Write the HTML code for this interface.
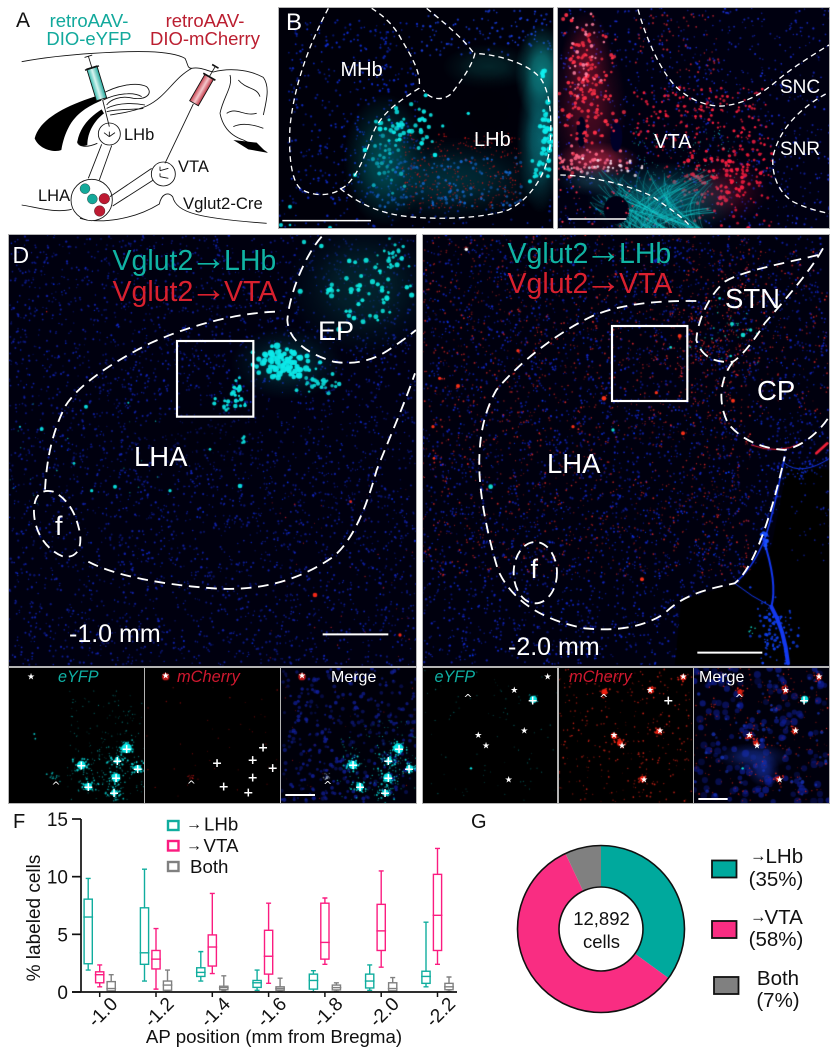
<!DOCTYPE html>
<html lang="en">
<head>
<meta charset="utf-8">
<title>Vglut2 projection labeling figure</title>
<style>
html,body{margin:0;padding:0;background:#fff;}
#figure{position:relative;width:838px;height:1050px;overflow:hidden;background:#fff;font-family:"Liberation Sans",sans-serif;}
canvas{position:absolute;display:block;filter:blur(.35px);box-shadow:0 0 0 1px #b4b4b4;}
#overlay{position:absolute;left:0;top:0;}
#overlay text{font-family:"Liberation Sans",sans-serif;}
.lab{fill:#fff;}
.dash{fill:none;stroke:#fff;stroke-linecap:butt;}
.mk{fill:#fff;text-anchor:middle;dominant-baseline:central;font-family:"DejaVu Sans",sans-serif !important;}
.st{font-size:27px;}
.pl{font-size:38px;font-weight:bold;}
.cr{font-size:32px;}
.br{fill:none;stroke:#111;stroke-width:2.6;}
</style>
</head>
<body>
<div id="figure">
<canvas id="pB1" width="274" height="220" style="left:279px;top:8px"></canvas>
<canvas id="pB2" width="271" height="220" style="left:558px;top:8px"></canvas>
<canvas id="pD1" width="407" height="431" style="left:9px;top:235px"></canvas>
<canvas id="pD2" width="406" height="431" style="left:423px;top:235px"></canvas>
<canvas id="i1" width="135" height="135" style="left:9px;top:668px"></canvas>
<canvas id="i2" width="135" height="135" style="left:145px;top:668px"></canvas>
<canvas id="i3" width="135" height="135" style="left:281px;top:668px"></canvas>
<canvas id="i4" width="134" height="135" style="left:423px;top:668px"></canvas>
<canvas id="i5" width="134" height="135" style="left:559px;top:668px"></canvas>
<canvas id="i6" width="135" height="135" style="left:694px;top:668px"></canvas>

<svg id="overlay" width="838" height="1050" viewBox="0 0 838 1050" xmlns="http://www.w3.org/2000/svg">
<defs>
<linearGradient id="tealSyr" x1="0" y1="0" x2="1" y2="0"><stop offset="0" stop-color="#2fb8ac"/><stop offset=".45" stop-color="#d8f4f0"/><stop offset="1" stop-color="#20a89c"/></linearGradient>
<linearGradient id="redSyr" x1="0" y1="0" x2="1" y2="0"><stop offset="0" stop-color="#c8404e"/><stop offset=".5" stop-color="#f4c8cc"/><stop offset="1" stop-color="#c03040"/></linearGradient>
</defs>

<!-- Panel A schematic -->
<g>
<text x="16" y="27" font-size="21" fill="#111">A</text>
<text x="89" y="27" font-size="18.5" fill="#12a99c" text-anchor="middle">retroAAV-</text>
<text x="89" y="45" font-size="18.5" fill="#12a99c" text-anchor="middle">DIO-eYFP</text>
<text x="205" y="27" font-size="18.5" fill="#bb1e30" text-anchor="middle">retroAAV-</text>
<text x="205" y="45" font-size="18.5" fill="#bb1e30" text-anchor="middle">DIO-mCherry</text>
<g transform="scale(.33333)">
<path class="br" d="M65 185C120 175 200 165 280 160C400 152 510 150 555 175C565 195 562 205 575 205C600 200 620 212 640 216C680 205 740 205 790 232"/>
<path class="br" d="M65 615C110 622 165 640 215 628M240 655C300 672 400 660 478 612C485 580 505 575 518 590C530 640 600 655 800 670"/>
<path class="br" d="M575 205C520 235 500 290 440 318C400 335 360 340 330 345"/>
<path class="br" d="M300 285C350 255 410 245 440 260C460 280 440 300 400 295C360 285 330 300 320 315"/>
<path class="br" d="M310 300C350 280 400 275 425 290M320 325C360 305 410 310 435 315M320 335C360 325 410 330 430 325"/>
<path fill="#000" d="M104 415C118 360 190 318 300 285L304 302C250 325 200 355 184 450C165 458 118 450 104 415Z"/>
<path fill="#000" d="M232 425C240 380 270 350 305 328L312 340C285 360 262 395 262 435C250 440 238 440 232 425Z"/>
<path class="br" d="M660 340C670 290 700 260 690 225M660 340C670 390 700 410 730 420C770 440 785 445 802 458M790 232C810 260 800 300 790 345M715 240C740 270 770 260 780 290M680 340C710 320 730 350 770 340M700 380C720 370 750 370 790 385"/>
<path fill="#000" d="M700 420L770 428L800 458L745 448Z"/>
<path class="br" d="M232 425C235 440 258 445 292 430"/>
<circle cx="328" cy="402" r="33" fill="#fff" stroke="#111" stroke-width="2.6"/>
<circle cx="490" cy="522" r="36" fill="#fff" stroke="#111" stroke-width="2.6"/>
<circle cx="275" cy="600" r="62" fill="#fff" stroke="#111" stroke-width="2.6"/>
<path class="br" d="M265 535L305 433M298 540L335 437M330 590L455 505M338 618L460 540"/>
<path class="br" d="M328 380L308 300M495 490L580 312"/>
<path class="br" d="M328 410V395M328 410L312 398M328 410L345 398M480 512L480 500M480 512L505 505M480 530L480 520M480 530L505 535"/>
<g transform="rotate(-17 290 250)"><rect x="274" y="200" width="32" height="100" fill="url(#tealSyr)" stroke="#111" stroke-width="2.6"/><path class="br" d="M290 200V165M278 165H302"/><path stroke="#111" stroke-width="4" d="M268 202H312"/></g>
<g transform="rotate(30 605 270)"><rect x="590" y="224" width="30" height="92" fill="url(#redSyr)" stroke="#111" stroke-width="2.6"/><path class="br" d="M605 224V190"/><path stroke="#111" stroke-width="5" d="M594 188H616M584 224H626"/></g>
<circle cx="255" cy="566" r="15" fill="#14a99a" stroke="#111" stroke-width="1"/>
<circle cx="277" cy="597" r="15" fill="#14a99a" stroke="#111" stroke-width="1"/>
<circle cx="313" cy="596" r="16" fill="#bd1a32" stroke="#111" stroke-width="1"/>
<circle cx="299" cy="633" r="16" fill="#bd1a32" stroke="#111" stroke-width="1"/>
</g>
<text x="124" y="140" font-size="16.5" fill="#111">LHb</text>
<text x="178" y="172" font-size="16.5" fill="#111">VTA</text>
<text x="38" y="201" font-size="16.5" fill="#111">LHA</text>
<text x="183" y="209" font-size="16.7" fill="#111">Vglut2-Cre</text>
</g>

<!-- Panel B -->
<g>
<g transform="translate(275,0) scale(.33333)">
<path class="dash" stroke-width="4" stroke-dasharray="17 12" d="M160 25C120 100 60 230 45 380C40 470 50 540 75 565C110 590 170 590 200 565C240 545 270 470 290 410C310 350 360 310 432 265C440 220 410 170 380 120C360 80 330 50 290 25"/>
<path class="dash" stroke-width="4" stroke-dasharray="17 12" d="M195 565C250 610 310 640 400 650C500 660 620 655 700 630C760 600 815 530 825 440C830 370 830 290 800 240C770 195 680 165 600 160C590 200 560 240 530 280C510 300 470 305 445 270"/>
<path class="dash" stroke-width="4" stroke-dasharray="17 12" d="M455 25C510 70 570 120 600 165"/>
<path stroke="#fff" stroke-width="4.5" d="M22 662H288"/>
</g>
<text x="286" y="30" font-size="24" class="lab">B</text>
<text x="340.5" y="76" font-size="20" class="lab">MHb</text>
<text x="474" y="146" font-size="20" class="lab">LHb</text>
<g transform="translate(553,0) scale(.33333)">
<path class="dash" stroke-width="4" stroke-dasharray="17 12" d="M255 28C280 120 330 230 380 270C420 305 470 320 510 318C580 310 630 280 680 235C730 195 780 165 828 135"/>
<path class="dash" stroke-width="4" stroke-dasharray="17 12" d="M818 282C750 320 680 380 660 470C655 530 680 580 720 605C760 625 800 635 828 640"/>
<path class="dash" stroke-width="4" stroke-dasharray="17 12" d="M22 525C100 525 230 555 300 590C340 620 390 650 412 680"/>
<path stroke="#fff" stroke-width="4.5" d="M46 657H220"/>
</g>
<text x="654" y="148" font-size="20" class="lab">VTA</text>
<text x="780" y="93" font-size="19" class="lab">SNC</text>
<text x="780" y="155" font-size="19" class="lab">SNR</text>
</g>

<!-- Panel D left -->
<g>
<g transform="translate(0,230) scale(.33333)">
<path class="dash" stroke-width="5.5" stroke-dasharray="32 20" d="M825 245C700 250 560 290 450 340C330 400 230 470 195 530C160 600 140 680 135 780"/>
<path class="dash" stroke-width="5.5" stroke-dasharray="32 20" d="M265 995C350 1040 500 1065 640 1075C780 1085 900 1050 1000 980C1060 930 1100 830 1130 720C1170 620 1210 530 1245 430"/>
<path class="dash" stroke-width="5.5" stroke-dasharray="30 18" d="M160 785C120 775 100 800 102 850C105 910 140 960 190 980C235 985 245 950 240 910C230 860 210 810 160 785"/>
<path class="dash" stroke-width="5.5" stroke-dasharray="32 20" d="M965 20C920 70 870 180 862 270C865 330 920 370 1000 395C1060 405 1120 395 1180 350C1210 330 1230 315 1248 300"/>
<rect x="531" y="333" width="229" height="227" fill="none" stroke="#fff" stroke-width="6.5"/>
<path stroke="#fff" stroke-width="6" d="M968 1213H1165"/>
</g>
<text x="12.5" y="263" font-size="23" class="lab">D</text>
<text y="270" font-size="28.5" fill="#10b3a3"><tspan x="112.5">Vglut2</tspan><tspan x="190.3" font-size="36.6">→</tspan><tspan x="224">LHb</tspan></text>
<text y="301" font-size="28.5" fill="#d8202e"><tspan x="112.5">Vglut2</tspan><tspan x="190.3" font-size="36.6">→</tspan><tspan x="224">VTA</tspan></text>
<text x="318" y="340" font-size="27" class="lab">EP</text>
<text x="134" y="466" font-size="27.5" class="lab">LHA</text>
<text x="55" y="535" font-size="27" class="lab">f</text>
<text x="69" y="642" font-size="25" class="lab">-1.0 mm</text>
</g>

<!-- Panel D right -->
<g>
<g transform="translate(418,230) scale(.33333)">
<path class="dash" stroke-width="5.5" stroke-dasharray="32 20" d="M835 213C720 212 620 220 530 255C430 300 310 390 235 480C190 560 180 650 185 740C190 820 210 920 240 1020C280 1110 370 1170 500 1195C600 1205 680 1190 740 1150C790 1100 850 1080 950 1060C1000 1020 1050 900 1100 680"/>
<path class="dash" stroke-width="5.5" stroke-dasharray="32 20" d="M1215 55C1180 120 1100 210 1040 280C1010 330 970 380 945 395"/>
<path class="dash" stroke-width="5.5" stroke-dasharray="32 20" d="M1200 75C1100 100 980 120 920 155C880 190 840 260 835 330C850 380 890 400 945 395"/>
<path class="dash" stroke-width="5.5" stroke-dasharray="32 20" d="M945 395C910 440 895 510 930 580C970 630 1030 655 1100 660C1150 650 1200 610 1230 565"/>
<ellipse cx="352" cy="1028" rx="65" ry="92" class="dash" stroke-width="5.5" stroke-dasharray="30 18"/>
<rect x="582" y="288" width="226" height="225" fill="none" stroke="#fff" stroke-width="6.5"/>
<path stroke="#fff" stroke-width="6" d="M838 1268H1033"/>
</g>
<text y="263" font-size="28.5" fill="#10b3a3"><tspan x="507.5">Vglut2</tspan><tspan x="585" font-size="36.6">→</tspan><tspan x="619">LHb</tspan></text>
<text y="293" font-size="28.5" fill="#d8202e"><tspan x="507.5">Vglut2</tspan><tspan x="585" font-size="36.6">→</tspan><tspan x="619">VTA</tspan></text>
<text x="725" y="308" font-size="27.5" class="lab">STN</text>
<text x="757" y="400" font-size="27.5" class="lab">CP</text>
<text x="547" y="473" font-size="27.5" class="lab">LHA</text>
<text x="530.5" y="578" font-size="27" class="lab">f</text>
<text x="508" y="655" font-size="25" class="lab">-2.0 mm</text>
</g>

<!-- Inset labels and markers -->
<g>
<text x="58" y="682" font-size="16.2" font-style="italic" fill="#0fb0a4">eYFP</text>
<text x="177" y="682" font-size="16.4" font-style="italic" fill="#d0182f">mCherry</text>
<text x="331" y="682" font-size="16" fill="#fff">Merge</text>
<text x="434.5" y="682" font-size="16.2" font-style="italic" fill="#0fb0a4">eYFP</text>
<text x="569" y="682" font-size="16.4" font-style="italic" fill="#d0182f">mCherry</text>
<text x="699" y="682" font-size="16" fill="#fff">Merge</text>
</g>
<g transform="translate(0,660) scale(.33333)">
<text class="mk st" x="93" y="52">★</text><text class="mk cr" x="168" y="378">^</text>
<text class="mk pl" x="380" y="265">+</text><text class="mk pl" x="352" y="302">+</text><text class="mk pl" x="413" y="325">+</text><text class="mk pl" x="348" y="353">+</text><text class="mk pl" x="244" y="315">+</text><text class="mk pl" x="265" y="380">+</text><text class="mk pl" x="342" y="398">+</text>
<text class="mk st" x="497" y="50">★</text><text class="mk cr" x="574" y="375">^</text>
<text class="mk pl" x="789" y="261">+</text><text class="mk pl" x="758" y="298">+</text><text class="mk pl" x="651" y="308">+</text><text class="mk pl" x="818" y="323">+</text><text class="mk pl" x="758" y="351">+</text><text class="mk pl" x="671" y="378">+</text><text class="mk pl" x="745" y="396">+</text>
<text class="mk st" x="906" y="50">★</text><text class="mk cr" x="983" y="376">^</text>
<text class="mk pl" x="1197" y="265">+</text><text class="mk pl" x="1165" y="301">+</text><text class="mk pl" x="1059" y="313">+</text><text class="mk pl" x="1227" y="325">+</text><text class="mk pl" x="1165" y="353">+</text><text class="mk pl" x="1080" y="380">+</text><text class="mk pl" x="1155" y="398">+</text>
<path stroke="#fff" stroke-width="6" d="M856 405H945"/>
</g>
<g transform="translate(420,660) scale(.33333)">
<text class="mk st" x="383" y="52">★</text><text class="mk st" x="283" y="93">★</text><text class="mk st" x="175" y="228">★</text><text class="mk st" x="313" y="214">★</text><text class="mk st" x="198" y="259">★</text><text class="mk st" x="266" y="361">★</text><text class="mk cr" x="144" y="115">^</text><text class="mk pl" x="338" y="120">+</text>
<text class="mk st" x="790" y="52">★</text><text class="mk st" x="690" y="93">★</text><text class="mk st" x="582" y="228">★</text><text class="mk st" x="720" y="214">★</text><text class="mk st" x="606" y="259">★</text><text class="mk st" x="672" y="361">★</text><text class="mk cr" x="551" y="115">^</text><text class="mk pl" x="745" y="120">+</text>
<text class="mk st" x="1197" y="52">★</text><text class="mk st" x="1097" y="93">★</text><text class="mk st" x="988" y="228">★</text><text class="mk st" x="1127" y="214">★</text><text class="mk st" x="1011" y="259">★</text><text class="mk st" x="1079" y="361">★</text><text class="mk cr" x="958" y="115">^</text><text class="mk pl" x="1152" y="120">+</text>
<path stroke="#fff" stroke-width="6" d="M835 417H923"/>
</g>

<!-- Panel F -->
<text x="13" y="828" font-size="20" fill="#111">F</text>
<g id="boxChart"></g>
<text x="40" y="918" font-size="19" fill="#111" text-anchor="middle" transform="rotate(-90 40 918)">% labeled cells</text>
<text x="274" y="1043" font-size="18.7" fill="#111" text-anchor="middle">AP position (mm from Bregma)</text>
<g>
<rect x="168" y="821" width="10.5" height="9" fill="none" stroke="#10ad9e" stroke-width="2.4"/>
<text fill="#111" font-size="18.7"><tspan x="186" y="829" font-size="16">→</tspan><tspan x="204" y="830.5">LHb</tspan></text>
<rect x="168" y="841" width="10.5" height="9.5" fill="none" stroke="#fb1c80" stroke-width="2.4"/>
<text fill="#111" font-size="18.7"><tspan x="186" y="850.5" font-size="16">→</tspan><tspan x="203.5" y="852">VTA</tspan></text>
<rect x="168" y="862" width="10.5" height="9" fill="none" stroke="#808080" stroke-width="2.4"/>
<text x="190" y="873" fill="#111" font-size="18.7">Both</text>
</g>

<!-- Panel G -->
<text x="471" y="828" font-size="20" fill="#111">G</text>
<g id="donutChart"></g>
<text x="601.5" y="925" font-size="18.5" fill="#111" text-anchor="middle">12,892</text>
<text x="601.5" y="948" font-size="18.5" fill="#111" text-anchor="middle">cells</text>
<g>
<rect x="712" y="860.5" width="24.5" height="17" fill="#00a99d" stroke="#111" stroke-width="1.8"/>
<text font-size="20.5" fill="#111"><tspan x="750" y="861" font-size="16.5">→</tspan><tspan x="765.5" y="863">LHb</tspan></text>
<text x="776" y="886" font-size="20.5" fill="#111" text-anchor="middle">(35%)</text>
<rect x="712" y="921" width="24.5" height="17" fill="#f92d82" stroke="#111" stroke-width="1.8"/>
<text font-size="20.5" fill="#111"><tspan x="750" y="922" font-size="16.5">→</tspan><tspan x="764.5" y="924">VTA</tspan></text>
<text x="776" y="946" font-size="20.5" fill="#111" text-anchor="middle">(58%)</text>
<rect x="714" y="977" width="24.5" height="17" fill="#808080" stroke="#111" stroke-width="1.8"/>
<text x="778" y="985" font-size="20.5" fill="#111" text-anchor="middle">Both</text>
<text x="778" y="1007" font-size="20.5" fill="#111" text-anchor="middle">(7%)</text>
</g>
</svg>
</div>

<script>
/* ---- box plot data: each row is [low whisker, q1, median, q3, high whisker] ---- */
const apCategories = ['-1.0','-1.2','-1.4','-1.6','-1.8','-2.0','-2.2'];
const yTickValues = [0,5,10,15];
const lhbBoxes = [
 [1.9,2.45,6.5,8.05,9.85],[0.95,2.4,3.4,7.3,10.65],[0.95,1.35,1.7,2.1,3.5],[0.15,0.4,0.8,1.0,1.9],
 [0.03,0.25,1.0,1.55,1.85],[0.15,0.35,0.95,1.55,2.35],[0.45,0.75,1.35,1.8,6.05]];
const vtaBoxes = [
 [0.45,0.8,1.5,1.75,2.35],[0.25,2.0,2.85,3.6,5.5],[1.6,2.25,3.9,4.95,8.55],[0.75,1.55,3.1,5.35,7.7],
 [2.4,2.85,4.3,7.7,8.15],[2.15,3.6,5.3,7.6,10.5],[2.4,3.6,6.65,10.2,12.45]];
const bothBoxes = [
 [0.05,0.1,0.3,0.9,1.5],[0.05,0.15,0.6,0.95,1.9],[0.1,0.2,0.38,0.5,1.4],[0.05,0.15,0.3,0.45,1.2],
 [0.05,0.18,0.38,0.6,0.8],[0.03,0.1,0.3,0.8,1.25],[0.05,0.2,0.45,0.75,1.3]];
/* ---- donut data ---- */
const pieCategories = ['LHb','VTA','Both'];
const pieValues = [35,58,7];

const SVGNS='http://www.w3.org/2000/svg';
function svgEl(tag,attrs,parent){
  const e=document.createElementNS(SVGNS,tag);
  for(const k in attrs)e.setAttribute(k,attrs[k]);
  parent.appendChild(e);
  return e;
}
/* axis functions */
const yScale=v=>992-v*(173/15);
const bandCenter=i=>99.7+i*56.3;

(function drawBoxChart(){
  const g=document.getElementById('boxChart');
  const seriesList=[
    {name:'lhb',rows:lhbBoxes,color:'#10ad9e',off:-11.5},
    {name:'vta',rows:vtaBoxes,color:'#fb1c80',off:0},
    {name:'both',rows:bothBoxes,color:'#808080',off:11.5}];
  seriesList.forEach(s=>{
    s.rows.forEach((r,i)=>{
      const cx=bandCenter(i)+s.off,w=8.2;
      const box=svgEl('g',{fill:'none',stroke:s.color,'stroke-width':1.4},g);
      
      
      const [lo,q1,md,q3,hi]=r;
      svgEl('path',{d:`M${cx} ${yScale(hi)}V${yScale(q3)}M${cx} ${yScale(q1)}V${yScale(lo)}M${cx-2.5} ${yScale(hi)}H${cx+2.5}M${cx-2.5} ${yScale(lo)}H${cx+2.5}`},box);
      svgEl('rect',{x:cx-w/2,y:yScale(q3),width:w,height:yScale(q1)-yScale(q3)},box);
      svgEl('path',{d:`M${cx-w/2-.8} ${yScale(md)}H${cx+w/2+.8}`},box);
    });
  });
  const yAxis=svgEl('path',{d:`M81 ${yScale(15)}V${yScale(0)}`,stroke:'#111','stroke-width':1.7,fill:'none'},g);
  
  
  const xAxis=svgEl('path',{d:`M72 ${yScale(0)}H457`,stroke:'#111','stroke-width':1.7,fill:'none'},g);
  
  
  yTickValues.forEach(v=>{
    const tk=svgEl('path',{d:`M72 ${yScale(v)}H81`,stroke:'#111','stroke-width':1.7},g);
    
    
    const t=svgEl('text',{x:68,y:yScale(v)+7,'font-size':19,'text-anchor':'end',fill:'#111'},g);
    
    
    t.textContent=String(v);
  });
  apCategories.forEach((c,i)=>{
    const x=bandCenter(i);
    const tk=svgEl('path',{d:`M${x} 992V997`,stroke:'#111','stroke-width':1.5},g);
    
    
    const t=svgEl('text',{transform:`translate(${x+19},1005) rotate(-45)`,'font-size':19,'text-anchor':'end',fill:'#111'},g);
    
    
    t.textContent=c;
  });
})();

(function drawDonut(){
  const g=document.getElementById('donutChart');
  const cx=601,cy=929,R=83.5,r=42;
  const colors=['#00a99d','#f92d82','#808080'];
  const total=pieValues.reduce((a,b)=>a+b,0);
  let a0=0;
  const pt=(rad,a)=>[cx+rad*Math.sin(a),cy-rad*Math.cos(a)];
  pieValues.forEach((v,i)=>{
    const a1=a0+v/total*2*Math.PI;
    const [x0,y0]=pt(R,a0),[x1,y1]=pt(R,a1),[x2,y2]=pt(r,a1),[x3,y3]=pt(r,a0);
    const big=(a1-a0)>Math.PI?1:0;
    const s=svgEl('path',{d:`M${x0} ${y0}A${R} ${R} 0 ${big} 1 ${x1} ${y1}L${x2} ${y2}A${r} ${r} 0 ${big} 0 ${x3} ${y3}Z`,fill:colors[i]},g);
    
    
    a0=a1;
  });
  const o=svgEl('circle',{cx:cx,cy:cy,r:R,fill:'none',stroke:'#111','stroke-width':1.6},g);
  
  
  const n=svgEl('circle',{cx:cx,cy:cy,r:r,fill:'#fff',stroke:'#111','stroke-width':1.6},g);
  
  
})();

/* ---- Micrograph texture painting (decorative imagery, not chart data) ---- */
let seed=12345;
function R(){seed|=0;seed=seed+0x6D2B79F5|0;let t=Math.imul(seed^seed>>>15,1|seed);t=t+Math.imul(t^t>>>7,61|t)^t;return((t^t>>>14)>>>0)/4294967296;}
function G(){return (R()+R()+R()+R()-2)/0.577;}
function panel(id,ox,oy,bg){
  const cv=document.getElementById(id),c=cv.getContext('2d');
  c.fillStyle=bg;c.fillRect(0,0,cv.width,cv.height);
  c.setTransform(1/3,0,0,1/3,-cv.offsetLeft+ox,-cv.offsetTop+oy);
  return c;
}
function rgba(hex,a){const n=parseInt(hex.slice(1),16);return `rgba(${n>>16},${n>>8&255},${n&255},${a})`;}
function blob(c,x,y,rx,ry,col,a){
  c.save();c.translate(x,y);c.scale(rx,ry);
  const g=c.createRadialGradient(0,0,0,0,0,1);
  g.addColorStop(0,rgba(col,1));g.addColorStop(.35,rgba(col,.8));g.addColorStop(.65,rgba(col,.35));g.addColorStop(1,rgba(col,0));
  c.globalAlpha=a;c.fillStyle=g;c.beginPath();c.arc(0,0,1,0,7);c.fill();c.restore();
}
function dot(c,x,y,r,col,a){c.globalAlpha=a;c.fillStyle=col;c.beginPath();c.arc(x,y,r,0,7);c.fill();c.globalAlpha=1;}
function rect(c,n,x0,y0,x1,y1,r0,r1,col,a0,a1){
  for(let i=0;i<n;i++)dot(c,x0+R()*(x1-x0),y0+R()*(y1-y0),r0+R()*(r1-r0),col,a0+R()*(a1-a0));
}
function gs(c,n,cx,cy,sx,sy,r0,r1,col,a0,a1){
  for(let i=0;i<n;i++)dot(c,cx+G()*sx,cy+G()*sy,r0+R()*(r1-r0),col,a0+R()*(a1-a0));
}
function hole(c,x,y,rx,ry,col){c.globalAlpha=1;c.fillStyle=col||'#000';c.beginPath();c.ellipse(x,y,rx,ry,0,0,7);c.fill();}

/* B left */
(function(){
  const c=panel('pB1',275,0,'#00000a');
  rect(c,420,40,60,430,600,2.2,3.8,'#1030e0',.45,.95);
  rect(c,110,440,30,830,170,2.2,3.8,'#1a40e8',.6,1);
  rect(c,70,10,600,830,685,2.2,3.8,'#1030d8',.4,.9);
  blob(c,330,480,125,200,'#007c80',.6);
  blob(c,520,540,300,130,'#003c48',.75);
  blob(c,800,220,80,150,'#10a0a0',.75);
  blob(c,795,420,70,220,'#0a7a84',.8);
  blob(c,640,200,140,70,'#084848',.5);
  blob(c,640,330,130,130,'#000008',.85);
  rect(c,330,380,400,740,625,1.4,2.6,'#e81818',.4,.95);
  rect(c,130,300,470,740,625,2.5,5,'#1468d0',.5,.95);
  gs(c,42,385,385,45,32,4.5,7.5,'#0ce8e8',.8,1);
  gs(c,26,330,490,25,40,4,7,'#0bb0c0',.6,1);
  gs(c,34,812,420,9,60,5,8.5,'#0cecec',.85,1);
  gs(c,8,780,525,10,18,5,7,'#0ce0e0',.9,1);
  gs(c,5,805,210,5,12,4,8,'#10f0f0',.9,1);
  dot(c,45,620,6,'#00d0d8',1);dot(c,18,675,6,'#00d0d8',1);dot(c,45,675,4,'#00d0d8',1);dot(c,165,683,6,'#00d0d8',1);
  dot(c,452,286,6,'#08e8e8',1);dot(c,580,340,5,'#08e8e8',1);dot(c,480,465,7,'#08e8e8',1);dot(c,440,430,7,'#08e8e8',1);dot(c,270,450,7,'#08e8e8',1);dot(c,240,525,6,'#08e8e8',1);
})();
/* B right */
(function(){
  const c=panel('pB2',553,0,'#000010');
  rect(c,900,14,20,830,685,1.8,3.4,'#1a30e0',.45,1);
  blob(c,105,320,115,240,'#b01838',.42);
  blob(c,100,170,75,140,'#c01838',.35);
  blob(c,130,480,130,55,'#e83050',.55);
  hole(c,85,395,14,45,'#00001c');hole(c,190,410,18,45,'#000028');
  gs(c,150,105,260,42,110,3,6.5,'#ff3048',.75,1);
  gs(c,30,95,185,28,60,3,6,'#ff80a0',.85,1);
  gs(c,55,110,490,55,22,3,6,'#ff6888',.8,1);
  gs(c,22,175,500,65,14,3,5,'#ffe0f0',.8,1);
  rect(c,150,240,260,650,420,2.2,4.8,'#ff2040',.65,1);
  blob(c,520,570,130,100,'#6a0a28',.55);
  gs(c,110,520,530,70,55,3,6.5,'#ff1e42',.8,1);
  rect(c,110,280,420,660,680,2.2,5,'#f01838',.65,1);
  rect(c,60,240,40,500,220,2,3.5,'#e02838',.5,.9);
  blob(c,330,600,230,115,'#0a7c88',.65);
  blob(c,130,540,120,50,'#206070',.5);
  c.lineCap='round';
  for(let i=0;i<120;i++){
    const sx=200+R()*260,sy=690,ex=110+R()*380,ey=510+R()*130;
    c.globalAlpha=.25+R()*.5;c.strokeStyle=R()<.6?'#14d8d8':'#0a98a0';c.lineWidth=1.3+R()*1.8;
    c.beginPath();c.moveTo(sx,sy);c.quadraticCurveTo((sx+ex)/2-50,(sy+ey)/2-20,ex,ey);c.stroke();
  }
  c.globalAlpha=1;
  hole(c,190,630,38,42,'#000014');
  rect(c,110,240,380,560,560,1,2,'#20d8d0',.5,1);
  rect(c,30,14,500,240,680,2,3.5,'#ff3050',.6,1);
})();
/* D left */
(function(){
  const c=panel('pD1',0,230,'#00000f');
  rect(c,3600,28,14,1248,1305,1.8,3.6,'#1428c8',.4,.9);
  rect(c,320,28,14,1248,1305,1.6,2.8,'#0a30f0',.7,1);
  blob(c,620,620,300,100,'#00000c',.55);
  blob(c,1090,170,230,210,'#04343c',.7);
  blob(c,860,400,170,110,'#04505a',.55);
  gs(c,58,1090,170,75,65,4,8,'#0ce8e0',.85,1);
  gs(c,20,1170,70,30,22,3,6,'#0cd8d8',.85,1);
  gs(c,75,850,400,45,25,5,10,'#0ce8e8',.9,1);
  gs(c,26,960,455,30,16,3,7,'#0cd8d8',.8,1);
  gs(c,18,715,490,16,24,3,8,'#0ce8e8',.9,1);
  gs(c,9,660,525,22,10,3,7,'#0ce0e0',.9,1);
  gs(c,5,732,630,4,8,3,5,'#0cd8d8',.9,1);
  [[125,597,6],[720,768,7],[345,770,6],[510,782,5],[275,782,5],[258,530,6],[222,700,4],[630,658,4],[60,590,3],[385,518,3]].forEach(p=>dot(c,p[0],p[1],p[2],'#0ad8d8',1));
  rect(c,18,30,480,500,830,1.5,2.6,'#0aa8a8',.6,1);
  [[945,1095,7],[1052,815,4],[1200,1215,5],[140,245,2]].forEach(p=>dot(c,p[0],p[1],p[2],'#f02818',1));
  rect(c,40,800,750,1240,1300,1.2,2.6,'#d02030',.5,1);
})();
/* D right */
(function(){
  const c=panel('pD2',418,230,'#00000e');
  rect(c,3600,14,14,1232,1305,1.8,3.6,'#1428d0',.45,.95);
  rect(c,380,14,14,1232,1305,1.8,3,'#0a38f8',.7,1);
  rect(c,1400,14,14,1000,1040,1.4,3,'#e02828',.4,.95);
  rect(c,220,800,60,1230,560,1.4,3,'#e82828',.5,1);
  gs(c,110,850,340,85,70,1.4,3,'#ef2830',.55,1);
  [[300,362,5],[120,468,6],[558,505,7],[785,318,6],[715,488,5],[672,1048,6],[945,512,6],[465,590,5],[795,610,6],[45,590,5],[48,685,4],[65,445,5]].forEach(p=>dot(c,p[0],p[1],p[2],'#f83018',1));
  /* black corner and vessel */
  c.globalAlpha=1;c.fillStyle='#000';
  c.beginPath();c.moveTo(1235,720);c.lineTo(1110,700);c.lineTo(1060,950);c.lineTo(960,1060);c.lineTo(790,1110);c.lineTo(770,1305);c.lineTo(1235,1305);c.closePath();c.fill();
  rect(c,40,1110,700,1235,1000,2,3,'#1428c0',.5,.9);
  c.strokeStyle='#1438f0';c.lineCap='round';
  [[1100,680,1060,880,1035,940,5],[1035,940,1000,1020,950,1060,4],[1035,925,1080,1060,1060,1130,6],[1060,1130,1100,1200,1110,1300,12],[1100,700,1150,740,1235,685,3],[950,1060,1000,1100,1060,1130,3]].forEach(s=>{
    c.lineWidth=s[6];c.beginPath();c.moveTo(s[0],s[1]);c.quadraticCurveTo(s[2],s[3],s[4],s[5]);c.stroke();
  });
  gs(c,90,1075,1210,28,50,2,5,'#1040f0',.7,1);
  gs(c,10,1040,925,7,14,3,7,'#1a50ff',1,1);
  gs(c,40,1150,720,40,20,1.5,3,'#1030d8',.7,1);
  c.strokeStyle='#f02038';c.lineWidth=8;c.beginPath();c.moveTo(1195,670);c.lineTo(1228,640);c.stroke();
  c.lineWidth=3;c.beginPath();c.moveTo(1000,645);c.quadraticCurveTo(1080,675,1150,640);c.stroke();
  [[218,770,7],[585,600,5],[905,205,4],[942,282,6],[975,315,7],[998,300,5],[938,378,4],[758,352,4]].forEach(p=>dot(c,p[0],p[1],p[2],'#10d8d0',1));
  gs(c,28,920,320,50,40,1.5,3,'#10c0b0',.7,1);
  dot(c,145,58,5,'#ffffff',1);
  gs(c,5,1005,1190,8,10,1.5,3,'#10d0c0',.9,1);
})();
/* Insets */
const leftCells=[[380,265,15],[352,302,9],[413,325,10],[348,353,13],[244,315,13],[265,380,11],[342,398,9]];
function cyan(c,list,dx){
  list.forEach(p=>{
    const x=p[0]+dx,y=p[1];
    gs(c,34,x,y,13,11,1.4,3.4,'#08d8d8',.7,1);
    dot(c,x,y,p[2],'#0ce8e8',1);
  });
}
(function(){
  let c=panel('i1',0,660,'#000');
  rect(c,150,200,90,432,420,1.2,2,'#089898',.5,.95);
  gs(c,70,340,340,50,50,1.2,2.2,'#0ab0b0',.6,1);
  cyan(c,leftCells,0);
  gs(c,16,162,350,8,6,1.5,3,'#08a8a8',.7,1);
  dot(c,103,222,3,'#08c0c0',1);dot(c,106,236,2.5,'#08c0c0',1);
  c=panel('i2',0,660,'#000');
  rect(c,45,440,60,838,420,1.2,2,'#a01010',.6,1);
  gs(c,14,572,350,6,6,1,2.2,'#c01818',.7,1);
  dot(c,497,50,11,'#c01818',1);
  c=panel('i3',0,660,'#00000a');
  rect(c,340,845,24,1248,426,3,6.5,'#1424b0',.3,.75);
  rect(c,70,1020,180,1248,420,1.2,2.2,'#0aa0a0',.5,1);
  gs(c,70,1150,330,65,50,1.2,2.2,'#0ab0b0',.6,1);
  cyan(c,leftCells,815);
  rect(c,30,845,60,1248,420,1,1.8,'#c01818',.6,1);
  gs(c,12,980,350,7,6,1.5,2.6,'#b0c0d0',.7,1);
  dot(c,906,50,11,'#c01818',1);
})();
(function(){
  let c=panel('i4',420,660,'#000');
  rect(c,80,10,25,412,425,1.2,2,'#067878',.5,1);
  dot(c,340,118,11,'#0ce8e8',1);gs(c,12,340,112,8,8,1,2.4,'#0ad0d0',.7,1);
  dot(c,153,325,3.5,'#0ce8e8',1);
  c=panel('i5',420,660,'#000');
  rect(c,300,416,24,818,426,1.2,2.8,'#d82418',.55,1);
  [[790,52],[692,90],[582,228],[717,214],[600,250],[668,357],[553,96]].forEach(p=>{gs(c,14,p[0],p[1],7,7,1.5,3.2,'#f82818',.8,1);dot(c,p[0],p[1],9,'#f02010',.95);});
  c=panel('i6',420,660,'#00000c');
  rect(c,170,822,24,1226,426,7,11,'#0e1c90',.3,.75);
  blob(c,1000,290,110,42,'#1a38b0',.6);
  blob(c,1030,330,50,50,'#1a38c0',.6);
  rect(c,60,822,24,1226,426,3,6,'#1838c8',.4,.8);
  rect(c,240,822,24,1226,426,1,2.6,'#d82418',.55,1);
  [[1197,52],[1097,92],[988,228],[1124,214],[1008,250],[1075,357],[960,96]].forEach(p=>{gs(c,12,p[0],p[1],7,7,1.5,3,'#f82818',.8,1);dot(c,p[0],p[1],8,'#e82010',.9);});
  dot(c,1154,118,11,'#0ce8e8',1);dot(c,968,325,3.5,'#0ce8e8',1);
})();
</script>
</body>
</html>
